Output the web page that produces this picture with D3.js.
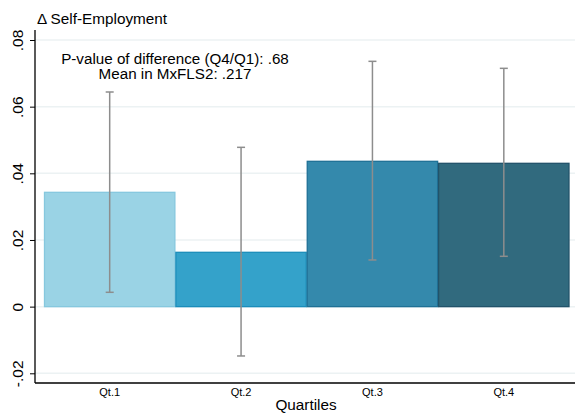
<!DOCTYPE html>
<html>
<head>
<meta charset="utf-8">
<script src="https://cdn.jsdelivr.net/npm/d3@7"></script>
<style>
  html, body { margin: 0; padding: 0; background: #fff; }
  svg { display: block; font-family: "Liberation Sans", Arial, Helvetica, sans-serif; }
</style>
</head>
<body>
<svg id="chart" width="575" height="416"></svg>
<script>
// Quartile estimates of the change in self-employment, with confidence intervals
const categories = ["Qt.1", "Qt.2", "Qt.3", "Qt.4"];
const estimates = [0.0343, 0.0163, 0.0436, 0.0430];
const ciLow = [0.0043, -0.0148, 0.0140, 0.0151];
const ciHigh = [0.0644, 0.0478, 0.0736, 0.0715];
const yTicks = [-0.02, 0, 0.02, 0.04, 0.06, 0.08];
const yTickLabels = ["-.02", "0", ".02", ".04", ".06", ".08"];
const fills = ["#9ad3e5", "#34a2ca", "#3489ac", "#316a7e"];
const strokes = ["#86c8de", "#1b8dba", "#1f7196", "#22536a"];
const notes = ["P-value of difference (Q4/Q1): .68", "Mean in MxFLS2: .217"];

const svg = d3.select("#chart");
const plotLeft = 35, plotRight = 575, plotTop = 30, plotBottom = 383;

const y = d3.scaleLinear().domain([-0.02, 0.08]).range([373.3, 40]);
const x = d3.scaleBand().domain(categories).range([44, 569.5]).padding(0);

// horizontal grid lines
svg.append("g").selectAll("line").data(yTicks).join("line")
  .attr("x1", plotLeft).attr("x2", plotRight)
  .attr("y1", d => y(d)).attr("y2", d => y(d))
  .attr("stroke", "#ecf2f3").attr("stroke-width", 1.5);

// bars
svg.append("g").selectAll("rect").data(estimates).join("rect")
  .attr("x", (d, i) => x(categories[i]) + 0.5)
  .attr("width", x.bandwidth() - 1)
  .attr("y", d => y(d))
  .attr("height", d => y(0) - y(d))
  .attr("fill", (d, i) => fills[i])
  .attr("stroke", (d, i) => strokes[i])
  .attr("stroke-width", 1.3);

// confidence intervals
const ci = svg.append("g").attr("stroke", "#8d8d8d").attr("stroke-width", 1.5);
categories.forEach((c, i) => {
  const cx = x(c) + x.bandwidth() / 2;
  ci.append("line").attr("x1", cx).attr("x2", cx).attr("y1", y(ciLow[i])).attr("y2", y(ciHigh[i]));
  ci.append("line").attr("x1", cx - 4).attr("x2", cx + 4).attr("y1", y(ciLow[i])).attr("y2", y(ciLow[i]));
  ci.append("line").attr("x1", cx - 4).attr("x2", cx + 4).attr("y1", y(ciHigh[i])).attr("y2", y(ciHigh[i]));
});

// y axis
const yAxis = d3.axisLeft(y).tickValues(yTicks)
  .tickFormat((d, i) => yTickLabels[i]).tickSize(5).tickSizeOuter(0);
const gy = svg.append("g").attr("transform", `translate(${plotLeft},0)`).call(yAxis);
gy.select(".domain").attr("d", `M0,${plotTop}V${plotBottom}`).attr("stroke", "#000").attr("stroke-width", 1.3);
gy.selectAll(".tick line").attr("stroke", "#000");
gy.selectAll(".tick text")
  .attr("font-size", 15.5).attr("fill", "#000")
  .attr("transform", "rotate(-90)")
  .attr("x", 0).attr("y", -12)
  .attr("dy", 0).attr("text-anchor", "middle");

// x axis
const xAxis = d3.axisBottom(x).tickSize(0).tickSizeOuter(0);
const gx = svg.append("g").attr("transform", `translate(0,${plotBottom})`).call(xAxis);
gx.select(".domain").attr("d", `M${plotLeft},0H${plotRight}`).attr("stroke", "#000").attr("stroke-width", 1.3);
gx.selectAll(".tick text").attr("font-size", 11).attr("fill", "#000").attr("dy", 0).attr("y", 13);

// axis titles
svg.append("text").attr("x", 37).attr("y", 24).attr("font-size", 15.3)
  .text("Δ Self-Employment");
svg.append("text").attr("x", 306).attr("y", 410).attr("font-size", 15.3)
  .attr("text-anchor", "middle").text("Quartiles");

// annotation
svg.append("g").selectAll("text").data(notes).join("text")
  .attr("x", 175).attr("y", (d, i) => 63.5 + i * 15.5)
  .attr("text-anchor", "middle").attr("font-size", 15.2)
  .text(d => d);
</script>
</body>
</html>
